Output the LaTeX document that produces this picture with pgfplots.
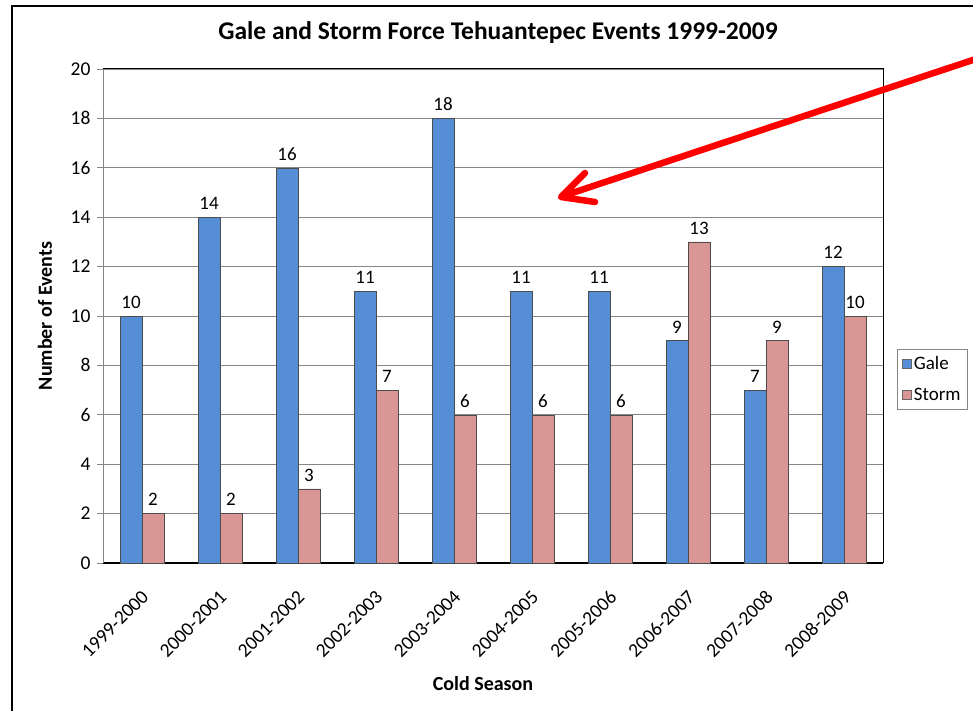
\documentclass[border=0pt]{standalone}
\usepackage{pgfplots}
\pgfplotsset{compat=1.18}
\usepackage{fontspec}
\setmainfont{Carlito}
\definecolor{galeblue}{RGB}{85,142,213}
\definecolor{stormpink}{RGB}{217,150,148}
\definecolor{gridgray}{RGB}{134,134,134}
\begin{document}
\begin{tikzpicture}[x=1pt,y=1pt]
\path[use as bounding box] (0,0) rectangle (973,-711);
\clip (0,0) rectangle (973,-711);
\fill[white] (0,0) rectangle (973,-711);
\draw[black, line width=2pt] (12,-6) rectangle (1000,-740);
\node[font=\fontsize{25.5}{27}\selectfont\bfseries] at (498,-33) {Gale and Storm Force Tehuantepec Events 1999-2009};
\begin{axis}[
  at={(103pt,-563pt)}, anchor=south west,
  width=780pt, height=494pt, scale only axis,
  ybar=0pt, bar width=22pt,
  xmin=-0.5, xmax=9.5, ymin=0, ymax=20,
  ytick={0,2,...,20},
  xtick=data,
  xticklabels={1999-2000,2000-2001,2001-2002,2002-2003,2003-2004,2004-2005,2005-2006,2006-2007,2007-2008,2008-2009},
  x tick label style={rotate=45, anchor=north east, inner sep=1pt, xshift=-14pt, yshift=-12pt},
  /pgf/number format/assume math mode=true,
  tick label style={font=\fontsize{19.5}{21}\selectfont},
  y tick label style={xshift=-3pt},
  major tick length=6pt,
  ytick style={gridgray, line width=0.8pt},
  xtick style={draw=none},
  tick align=outside, ytick pos=left, xtick pos=bottom,
  ymajorgrids, grid style={gridgray, line width=0.8pt},
  axis x line*=bottom, axis y line*=left,
  x axis line style={black, line width=2pt, -},
  y axis line style={gridgray, line width=1pt, -},
  xlabel={Cold Season}, ylabel={Number of Events},
  label style={font=\fontsize{20}{22}\selectfont\bfseries},
  xlabel style={at={(axis description cs:0.5,0)}, anchor=center, yshift=-121pt, xshift=-10pt},
  ylabel style={at={(axis description cs:0,0.5)}, anchor=center, yshift=58pt},
  nodes near coords,
  every node near coord/.append style={font=\fontsize{19}{21}\selectfont, yshift=4pt},
  legend style={at={(1.018,0.433)}, anchor=north west, draw=gridgray, font=\fontsize{19}{21}\selectfont, row sep=13pt, inner sep=5pt, cells={anchor=west}},
  legend image code/.code={\draw[#1, draw=black!60] (0pt,-4.5pt) rectangle (9pt,4.5pt);},
]
\addplot[fill=galeblue, draw=black!70, line width=0.6pt] coordinates {(0,10) (1,14) (2,16) (3,11) (4,18) (5,11) (6,11) (7,9) (8,7) (9,12)};
\addplot[fill=stormpink, draw=black!70, line width=0.6pt] coordinates {(0,2) (1,2) (2,3) (3,7) (4,6) (5,6) (6,6) (7,13) (8,9) (9,10)};
\legend{Gale,Storm}
\end{axis}
\draw[black, line width=1pt] (103,-69) -- (883,-69) -- (883,-563);
\draw[red, line width=6.5pt, line cap=round] (1000,-51) -- (563,-196);
\draw[red, line width=6.5pt, line cap=round, line join=round] (585,-173) -- (561,-197) -- (595,-202);
\end{tikzpicture}
\end{document}
